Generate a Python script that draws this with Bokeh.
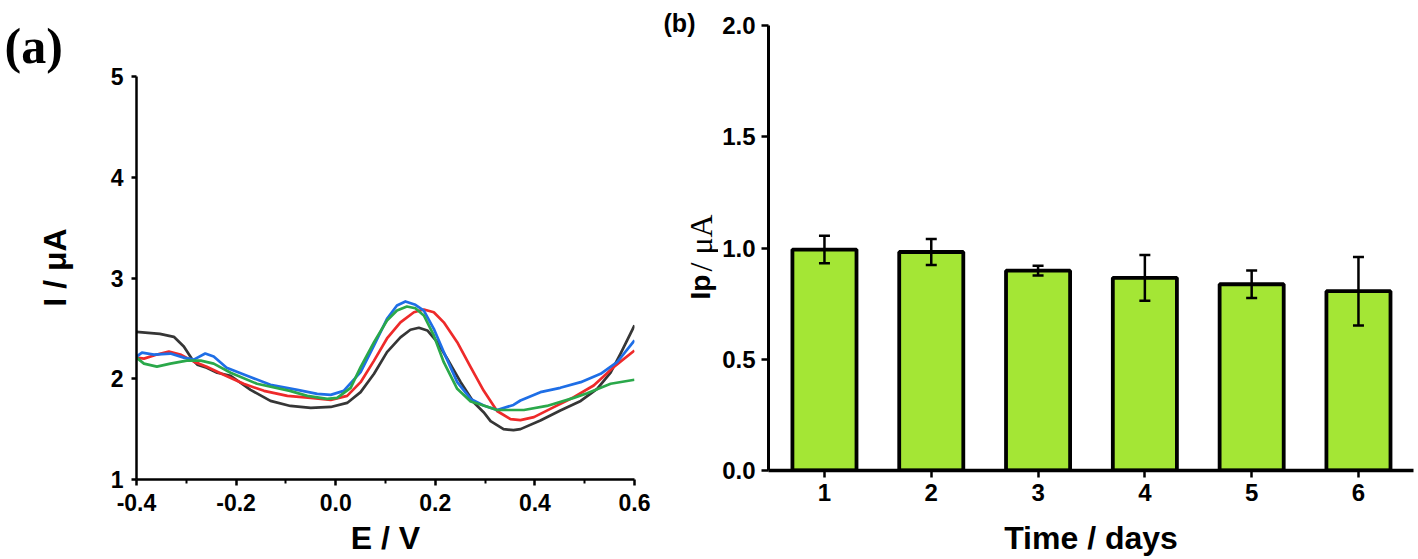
import math
from bokeh.plotting import figure
from bokeh.layouts import row
from bokeh.models import (FixedTicker, PrintfTickFormatter, Whisker, TeeHead,
                          ColumnDataSource, Range1d)
from bokeh.core.properties import value
from bokeh.embed import file_html
from bokeh.resources import INLINE

# ---------------- data: panel (a) DPV curves ----------------
E_black = [-0.400, -0.353, -0.325, -0.305, -0.288, -0.278, -0.259, -0.238, -0.211, -0.171,
           -0.131, -0.091, -0.050, -0.010, 0.023, 0.050, 0.077, 0.103, 0.130, 0.150,
           0.167, 0.184, 0.204, 0.224, 0.251, 0.277, 0.297, 0.311, 0.337, 0.357,
           0.371, 0.411, 0.451, 0.492, 0.525, 0.552, 0.572, 0.600]
I_black = [2.466, 2.446, 2.416, 2.32, 2.19, 2.14, 2.11, 2.06, 2.03, 1.89,
           1.78, 1.73, 1.71, 1.72, 1.76, 1.867, 2.049, 2.264, 2.41, 2.486,
           2.506, 2.479, 2.363, 2.198, 1.966, 1.767, 1.668, 1.58, 1.50, 1.49,
           1.50, 1.586, 1.685, 1.78, 1.90, 2.06, 2.25, 2.53]

E_red = [-0.400, -0.385, -0.359, -0.335, -0.312, -0.285, -0.259, -0.225, -0.185, -0.144,
         -0.097, -0.050, -0.010, 0.023, 0.050, 0.077, 0.103, 0.130, 0.157, 0.177,
         0.197, 0.217, 0.244, 0.271, 0.297, 0.324, 0.351, 0.371, 0.398, 0.438,
         0.478, 0.518, 0.558, 0.600]
I_red = [2.21, 2.20, 2.24, 2.27, 2.24, 2.17, 2.12, 2.04, 1.95, 1.88,
         1.83, 1.81, 1.79, 1.83, 1.966, 2.18, 2.40, 2.56, 2.66, 2.687,
         2.66, 2.56, 2.363, 2.115, 1.883, 1.68, 1.60, 1.59, 1.619, 1.718,
         1.817, 1.933, 2.115, 2.28]

E_blue = [-0.400, -0.389, -0.365, -0.332, -0.305, -0.285, -0.262, -0.245, -0.219, -0.178,
          -0.131, -0.077, -0.037, -0.010, 0.016, 0.050, 0.077, 0.103, 0.123, 0.140,
          0.160, 0.177, 0.197, 0.217, 0.244, 0.271, 0.297, 0.324, 0.357, 0.371,
          0.411, 0.451, 0.492, 0.532, 0.565, 0.600]
I_blue = [2.22, 2.26, 2.24, 2.25, 2.21, 2.19, 2.25, 2.22, 2.11, 2.03,
          1.94, 1.89, 1.85, 1.84, 1.88, 2.065, 2.33, 2.595, 2.727, 2.767,
          2.734, 2.677, 2.496, 2.264, 1.966, 1.80, 1.734, 1.69, 1.74, 1.784,
          1.867, 1.91, 1.966, 2.049, 2.164, 2.38]

E_green = [-0.400, -0.385, -0.359, -0.332, -0.299, -0.271, -0.245, -0.211, -0.158, -0.092,
           -0.057, -0.017, 0.003, 0.030, 0.050, 0.077, 0.103, 0.123, 0.143, 0.160,
           0.177, 0.197, 0.217, 0.244, 0.271, 0.297, 0.324, 0.378, 0.424, 0.478,
           0.505, 0.552, 0.600]
I_green = [2.21, 2.15, 2.12, 2.15, 2.18, 2.18, 2.15, 2.06, 1.95, 1.88,
           1.83, 1.80, 1.81, 1.91, 2.115, 2.363, 2.578, 2.677, 2.717, 2.70,
           2.628, 2.43, 2.164, 1.90, 1.774, 1.734, 1.69, 1.69, 1.73, 1.81,
           1.857, 1.95, 1.99]

x_ticks_a = [-0.4, -0.2, 0.0, 0.2, 0.4, 0.6]
x_minor_a = [-0.3, -0.1, 0.1, 0.3, 0.5]
y_ticks_a = [1, 2, 3, 4, 5]

# ---------------- data: panel (b) stability bars ----------------
days = [1, 2, 3, 4, 5, 6]
ip_mean = [0.993, 0.982, 0.898, 0.866, 0.837, 0.806]
ip_err = [0.062, 0.058, 0.022, 0.103, 0.062, 0.154]
y_ticks_b = [0.0, 0.5, 1.0, 1.5, 2.0]

# ---------------- layout constants (page px; the page has no body margin) ----------------
H = 558
WA, W1, WM, W2 = 100, 556, 62, 698           # strip | panel a | strip | panel b
X1 = WA                                      # page x where panel a starts
XM = WA + W1                                 # page x where middle strip starts
X2 = WA + W1 + WM                            # page x where panel b starts
A_L, A_R, A_T, A_B = 136, 634, 76, 479       # panel a frame
B_L, B_R, B_T, B_B = 768, 1413, 25, 472      # panel b frame
B_X0 = 0.476
B_X1 = B_X0 + (B_R - B_L) / 106.8

SANS = "Liberation Sans"
SERIF = "Liberation Serif"


def style_axes(p, tick_size):
    for ax in (p.xaxis[0], p.yaxis[0]):
        ax.axis_line_width = 2.5
        ax.axis_line_color = "black"
        ax.major_tick_line_width = 2.5
        ax.major_tick_line_color = "black"
        ax.minor_tick_line_width = 2
        ax.minor_tick_line_color = "black"
        ax.major_tick_in = 0
        ax.major_tick_out = 6
        ax.minor_tick_in = 0
        ax.minor_tick_out = 4
        ax.major_label_text_font = SANS
        ax.major_label_text_font_style = "bold"
        ax.major_label_text_font_size = tick_size
        ax.major_label_text_color = "black"
        ax.axis_label_text_font = SANS
        ax.axis_label_text_font_style = "bold"
        ax.axis_label_text_font_size = "32px"
        ax.axis_label_text_color = "black"
    p.xgrid.visible = False
    p.ygrid.visible = False
    p.outline_line_color = None
    p.background_fill_color = "white"
    p.border_fill_color = "white"
    p.frame_align = False


def strip(width):
    s = figure(width=width, height=H, x_range=Range1d(0, width), y_range=Range1d(0, H),
               output_backend="svg", toolbar_location=None,
               x_axis_type=None, y_axis_type=None,
               min_border_left=0, min_border_right=0, min_border_top=0, min_border_bottom=0)
    s.xgrid.visible = False
    s.ygrid.visible = False
    s.outline_line_color = None
    s.border_fill_color = "white"
    s.frame_align = False
    return s


# ---------------- left strip: panel letter and y-axis title of (a) ----------------
pa = strip(WA)
pa.text(x=[4], y=[H - 45], text=["(a)"], text_font=value(SERIF), text_font_style="bold",
        text_font_size="50px", text_align="left", text_baseline="alphabetic",
        text_color="black")
pa.text(x=[54], y=[H - 267], text=["I / \u03bcA"], angle=math.pi / 2,
        text_font=value(SANS), text_font_style="bold", text_font_size="32px",
        text_align="center", text_baseline="middle", text_color="black")

# ---------------- panel (a) ----------------
p1 = figure(width=W1, height=H, x_range=Range1d(-0.4, 0.6), y_range=Range1d(1, 5),
            output_backend="svg", toolbar_location=None,
            min_border_left=A_L - X1, min_border_right=XM - A_R,
            min_border_top=A_T, min_border_bottom=H - A_B)
LW = 2.7
p1.line(E_black, I_black, line_color="#363636", line_width=LW, line_join="round")
p1.line(E_red, I_red, line_color="#ee2a2a", line_width=LW, line_join="round")
p1.line(E_blue, I_blue, line_color="#1e6ee6", line_width=LW, line_join="round")
p1.line(E_green, I_green, line_color="#2aa84a", line_width=LW, line_join="round")
p1.xaxis.ticker = FixedTicker(ticks=x_ticks_a, minor_ticks=x_minor_a)
p1.xaxis.formatter = PrintfTickFormatter(format="%.1f")
p1.yaxis.ticker = FixedTicker(ticks=y_ticks_a, minor_ticks=[])
p1.xaxis.axis_label = "E / V"
style_axes(p1, "23px")
p1.yaxis.major_tick_out = 5
p1.xaxis.major_label_standoff = 8
p1.yaxis.major_label_standoff = 8
p1.xaxis.axis_label_standoff = 6

# ---------------- middle strip: panel letter and y-axis title of (b) ----------------
pm = strip(WM)
pm.text(x=[679 - XM], y=[H - 22], text=["(b)"], text_font=value(SANS),
        text_font_style="bold", text_font_size="25px", text_align="center",
        text_baseline="middle", text_color="black")
pm.text(x=[700 - XM], y=[H - 299], text=["Ip"], angle=math.pi / 2,
        text_font=value(SANS), text_font_style="bold", text_font_size="28px",
        text_align="left", text_baseline="middle", text_color="black")
pm.text(x=[700 - XM], y=[H - 271], text=["/ \u03bcA"], angle=math.pi / 2,
        text_font=value(SERIF), text_font_size="32px",
        text_align="left", text_baseline="middle", text_color="black")

# ---------------- panel (b) ----------------
p2 = figure(width=W2, height=H, x_range=Range1d(B_X0, B_X1), y_range=Range1d(0, 2.0),
            output_backend="svg", toolbar_location=None,
            min_border_left=B_L - X2, min_border_right=X2 + W2 - B_R,
            min_border_top=B_T, min_border_bottom=H - B_B)
p2.vbar(x=days, top=ip_mean, width=0.6, bottom=0, fill_color="#a4e635",
        line_color="black", line_width=3.8)
src = ColumnDataSource(data=dict(
    x=days,
    upper=[m + e for m, e in zip(ip_mean, ip_err)],
    lower=[m - e for m, e in zip(ip_mean, ip_err)],
))
wh = Whisker(source=src, base="x", upper="upper", lower="lower",
             line_width=2.5, line_color="black",
             upper_head=TeeHead(size=11, line_width=2.5, line_color="black"),
             lower_head=TeeHead(size=11, line_width=2.5, line_color="black"))
wh.level = "overlay"
p2.add_layout(wh)
p2.xaxis.ticker = FixedTicker(ticks=days, minor_ticks=[])
p2.yaxis.ticker = FixedTicker(ticks=y_ticks_b, minor_ticks=[])
p2.yaxis.formatter = PrintfTickFormatter(format="%.1f")
p2.xaxis.axis_label = "Time / days"
style_axes(p2, "24px")
p2.xaxis.axis_line_width = 3.5
p2.yaxis.axis_line_width = 3
p2.xaxis.major_tick_out = 7
p2.yaxis.major_tick_out = 7
p2.xaxis.major_label_standoff = 6
p2.yaxis.major_label_standoff = 6
p2.xaxis.axis_label_standoff = 16

layout = row(pa, p1, pm, p2)
open("out.html", "w").write(file_html(layout, INLINE))
